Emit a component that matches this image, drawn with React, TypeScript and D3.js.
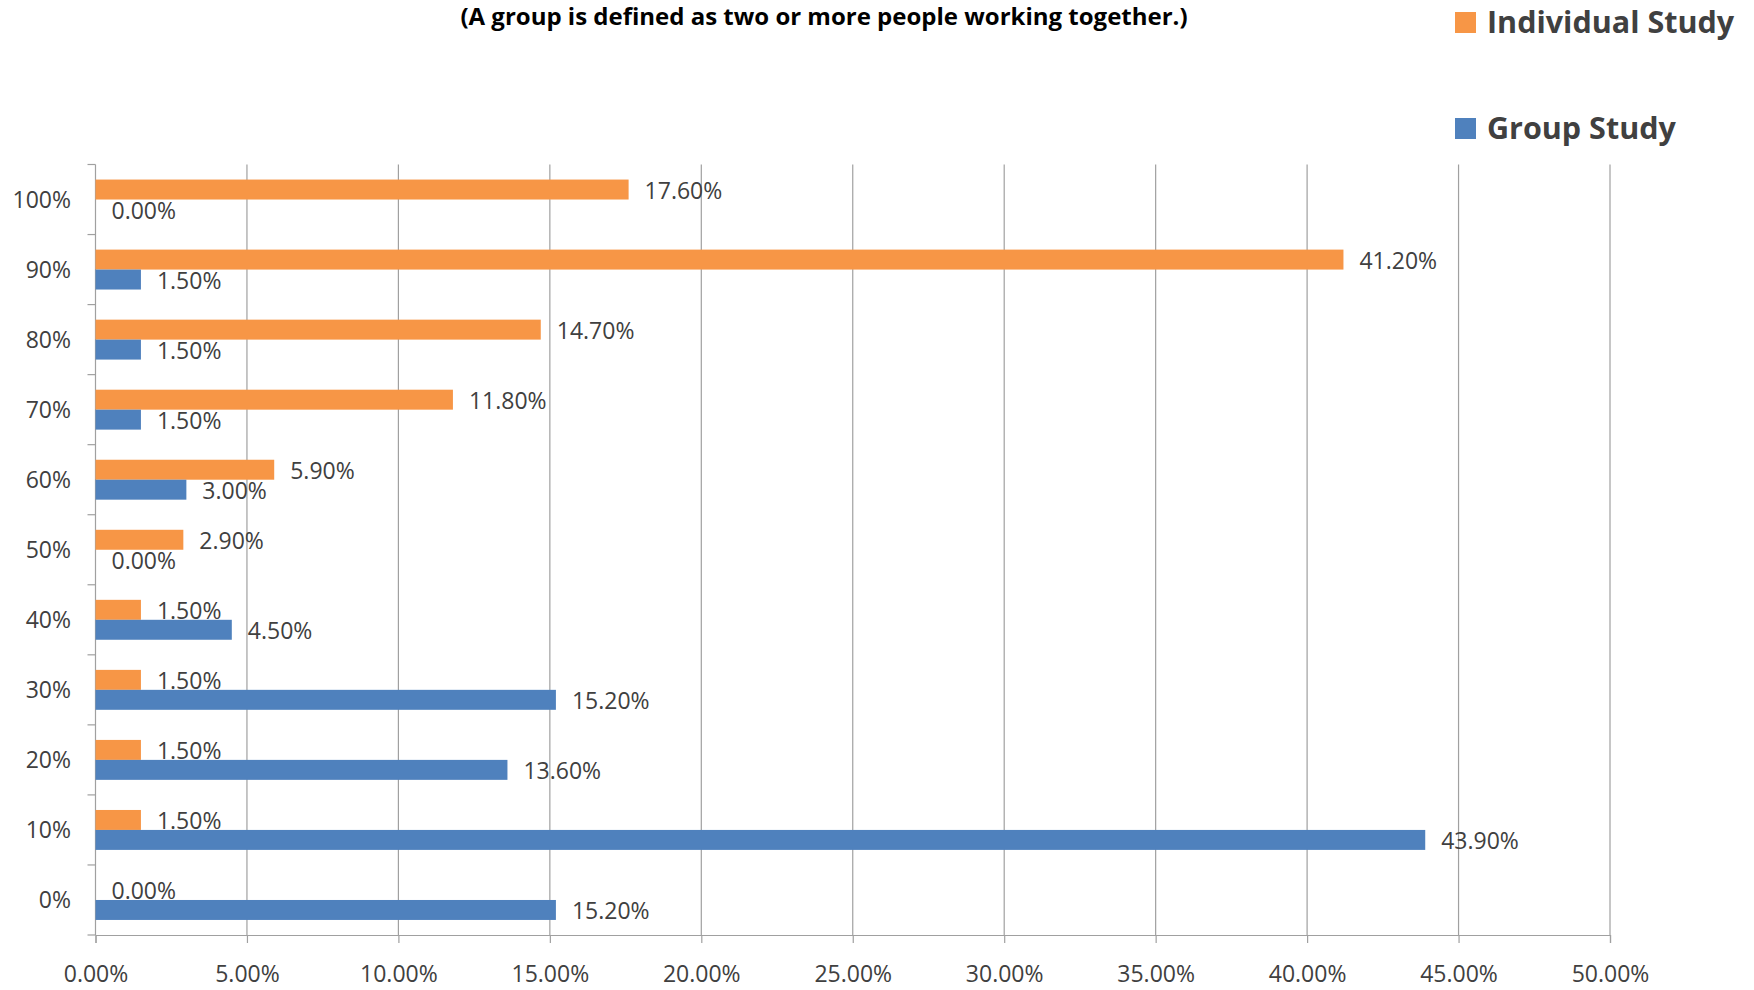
import React, { useEffect, useRef } from 'react';
import * as d3 from 'd3';

// categories from top to bottom, as in the picture
const categories = ['100%', '90%', '80%', '70%', '60%', '50%', '40%', '30%', '20%', '10%', '0%'];
const individualStudy = [17.6, 41.2, 14.7, 11.8, 5.9, 2.9, 1.5, 1.5, 1.5, 1.5, 0.0];
const groupStudy = [0.0, 1.5, 1.5, 1.5, 3.0, 0.0, 4.5, 15.2, 13.6, 43.9, 15.2];
const xTicks = [0, 5, 10, 15, 20, 25, 30, 35, 40, 45, 50];
const seriesNames = ['Individual Study', 'Group Study'];
const seriesColors = ['#F79646', '#4F81BD'];
const title = '(A group is defined as two or more people working together.)';

export default function App() {
  const svgRef = useRef<SVGSVGElement>(null);

  useEffect(() => {
    document.body.style.margin = '0';
    const svg = d3.select(svgRef.current);
    svg.selectAll('*').remove();

    const font = '"Open Sans", "Noto Sans", sans-serif';
    const textColor = '#404040';
    const left = 95.5, right = 1610, top = 164.5, bottom = 935;

    const x = d3.scaleLinear().domain([0, 50]).range([left, right]);
    const y = d3.scaleBand<string>().domain(categories).range([top, bottom])
      .paddingInner(0.43).paddingOuter(0.215);
    const sub = d3.scaleBand<string>().domain(seriesNames).range([0, y.bandwidth()]);

    // title at the top edge
    svg.append('text')
      .attr('x', 824).attr('y', 25)
      .attr('text-anchor', 'middle')
      .style('font-family', font).style('font-weight', 'bold').style('font-size', '24px')
      .attr('fill', '#000')
      .text(title);

    // gridlines
    svg.append('g').selectAll('line').data(xTicks.slice(1)).enter().append('line')
      .attr('x1', d => x(d)).attr('x2', d => x(d))
      .attr('y1', top).attr('y2', bottom)
      .attr('stroke', '#a0a0a0').attr('stroke-width', 1.2);

    // bottom axis
    const xAxis = svg.append('g')
      .attr('transform', 'translate(0,' + bottom + ')')
      .call(d3.axisBottom(x).tickValues(xTicks).tickSize(8).tickPadding(23)
        .tickFormat(d => (d as number).toFixed(2) + '%'));
    xAxis.select('.domain').attr('stroke', '#a0a0a0').attr('stroke-width', 1.2);
    xAxis.selectAll('.tick line').attr('stroke', '#a0a0a0').attr('stroke-width', 1.2);
    xAxis.selectAll('text').style('font-family', font).style('font-size', '23px').attr('fill', textColor);

    // left axis
    svg.append('line').attr('x1', left).attr('x2', left).attr('y1', top).attr('y2', bottom)
      .attr('stroke', '#a0a0a0').attr('stroke-width', 1.2);
    const bounds = categories.map(c => (y(c) as number) - y.step() * 0.215).concat([bottom]);
    svg.append('g').selectAll('line').data(bounds).enter().append('line')
      .attr('x1', left - 8).attr('x2', left)
      .attr('y1', d => d).attr('y2', d => d)
      .attr('stroke', '#a0a0a0').attr('stroke-width', 1.2);
    svg.append('g').selectAll('text').data(categories).enter().append('text')
      .attr('x', 71).attr('y', d => (y(d) as number) + y.bandwidth() / 2)
      .attr('dy', '0.35em').attr('text-anchor', 'end')
      .style('font-family', font).style('font-size', '23px').attr('fill', textColor)
      .text(d => d);

    const series = [individualStudy, groupStudy];
    series.forEach((values, si) => {
      const g = svg.append('g');
      g.selectAll('rect').data(values).enter().append('rect')
        .attr('x', x(0))
        .attr('y', (d, i) => (y(categories[i]) as number) + (sub(seriesNames[si]) as number))
        .attr('width', d => x(d) - x(0))
        .attr('height', sub.bandwidth())
        .attr('fill', seriesColors[si]);
    });
    series.forEach((values, si) => {
      svg.append('g').selectAll('text').data(values).enter().append('text')
        .attr('x', d => x(d) + 16)
        .attr('y', (d, i) => (y(categories[i]) as number) + (sub(seriesNames[si]) as number) + sub.bandwidth() / 2 + 1)
        .attr('dy', '0.35em')
        .style('font-family', font).style('font-size', '23px').attr('fill', textColor)
        .text(d => d.toFixed(2) + '%');
    });

    // legend
    const legendY = [22.5, 128.5];
    seriesNames.forEach((name, i) => {
      svg.append('rect').attr('x', 1455).attr('y', legendY[i] - 10.5)
        .attr('width', 21).attr('height', 21).attr('fill', seriesColors[i]);
      svg.append('text').attr('x', 1487).attr('y', legendY[i]).attr('dy', '0.35em')
        .style('font-family', font).style('font-weight', 'bold').style('font-size', '30.5px')
        .attr('fill', textColor).text(name);
    });
  }, []);

  return <svg ref={svgRef} width={1754} height={990} style={{ display: 'block', background: '#fff' }} />;
}
